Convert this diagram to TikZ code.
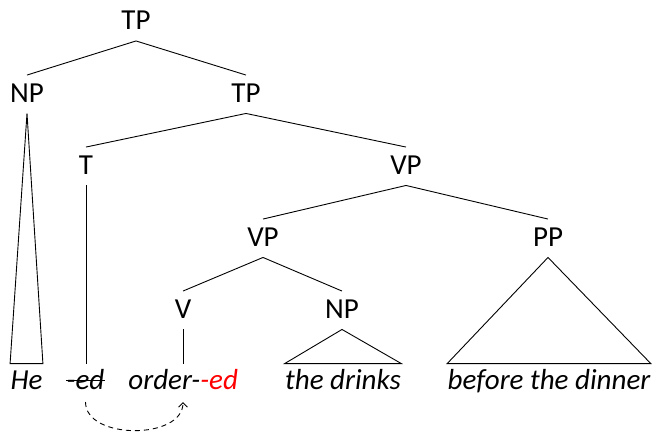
\documentclass[tikz,border=0pt]{standalone}
\usepackage{fontspec}
\setmainfont{Carlito}
\usetikzlibrary{arrows.meta}

\begin{document}
\begin{tikzpicture}[x=1pt, y=-1pt, line width=0.9pt,
    cat/.style={anchor=base, inner xsep=2pt, inner ysep=7.5pt, text height=19pt, text depth=3.5pt,
                font=\fontsize{29}{34}\selectfont},
    word/.style={anchor=base, inner sep=0pt, text height=25pt, text depth=0pt,
                font=\fontsize{29}{34}\selectfont\itshape}]
				\useasboundingbox (0,0) rectangle (653,431);

				% categories
				\node[cat] (tp) at (136,29.5) {TP};
				\node[cat] (np) at (27,102) {NP};
				\node[cat] (tpb) at (246,102) {TP};
				\node[cat] (t) at (86,174) {T};
				\node[cat] (vp) at (406,174) {VP};
				\node[cat] (vpb) at (263,246) {VP};
				\node[cat] (pp) at (548,246) {PP};
				\node[cat] (v) at (183,318) {V};
				\node[cat] (npb) at (342,318) {NP};

				% words
				\node[word] (he) at (26.5,389) {He};
				\node[word] (ed) at (85.5,389) {-ed};
				\node[word, anchor=base west] (order) at (128,389) {order-{\color{red}-ed}};
				\node[word] (drinks) at (343,389) {the drinks};
				\node[word] (dinner) at (549,389) {before the dinner};

				% branches
				\draw (tp.south) -- (np.north);
				\draw (tp.south) -- (tpb.north);
				\draw (tpb.south) -- (t.north);
				\draw (tpb.south) -- (vp.north);
				\draw (vp.south) -- (vpb.north);
				\draw (vp.south) -- (pp.north);
				\draw (vpb.south) -- (v.north);
				\draw (vpb.south) -- (npb.north);

				\draw (t.south) -- (t.south |- ed.north);
				\draw (v.south) -- (v.south |- order.north);

				% triangles
				\draw (np.south) -- (he.north west) -- (he.north east) -- cycle;
				\draw (npb.south) -- (drinks.north west) -- (drinks.north east) -- cycle;
				\draw (pp.south) -- (dinner.north west) -- (dinner.north east) -- cycle;

				% struck affix and its movement
				\draw ([yshift=8.5pt]ed.base west) -- ([yshift=8.5pt]ed.base east);
				\draw[-{Straight Barb[length=4.5pt, width=9pt]}, dash pattern=on 5pt off 4pt]
				([yshift=-13pt]ed.base) to[out=-90, in=-90] ([yshift=-13pt]v.south |- ed.base);

			\end{tikzpicture}
\end{document}
